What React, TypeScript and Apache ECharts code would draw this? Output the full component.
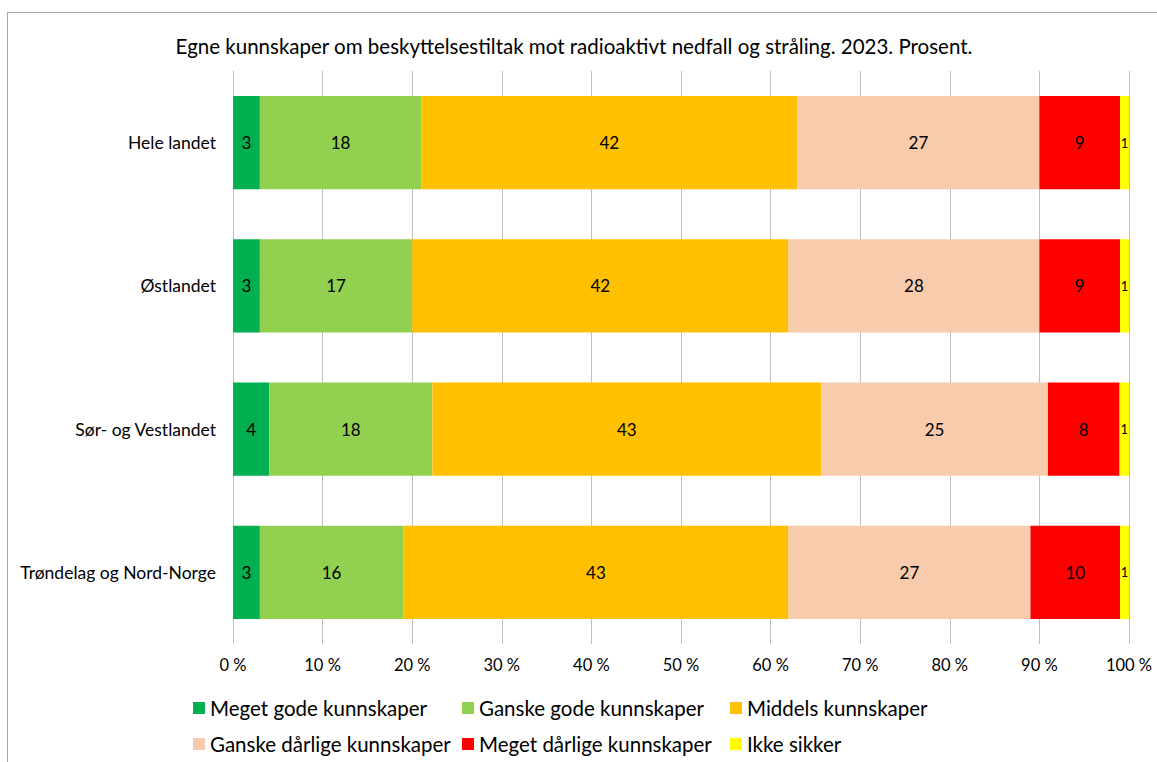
import React, { useEffect, useRef } from "react";
import * as echarts from "echarts";

const categories = ["Hele landet", "Østlandet", "Sør- og Vestlandet", "Trøndelag og Nord-Norge"];
const seriesNames = [
  "Meget gode kunnskaper",
  "Ganske gode kunnskaper",
  "Middels kunnskaper",
  "Ganske dårlige kunnskaper",
  "Meget dårlige kunnskaper",
  "Ikke sikker",
];
const megetGode = [3, 3, 4.05, 3];
const ganskeGode = [18, 17, 18.2, 16];
const middels = [42, 42, 43.4, 43];
const ganskeDarlige = [27, 28, 25.3, 27];
const megetDarlige = [9, 9, 8, 10];
const ikkeSikker = [1, 1, 1.1, 1];
const colors = ["#00B050", "#92D050", "#FFC000", "#F8CBAD", "#FF0000", "#FFFF00"];
const xTicks = [0, 10, 20, 30, 40, 50, 60, 70, 80, 90, 100];

const FONT = "Lato";

export default function App() {
  const ref = useRef<HTMLDivElement>(null);
  useEffect(() => {
    document.body.style.margin = "0";
    const chart = echarts.init(ref.current!, null, { renderer: "svg" });
    const values = [megetGode, ganskeGode, middels, ganskeDarlige, megetDarlige, ikkeSikker];
    const legendPos = [
      [193, 697],
      [462, 697],
      [730, 697],
      [193, 733],
      [462, 733],
      [730, 733],
    ];
    chart.setOption({
      animation: false,
      textStyle: { fontFamily: FONT },
      color: colors,
      title: {
        text: "Egne kunnskaper om beskyttelsestiltak mot radioaktivt nedfall og stråling. 2023. Prosent.",
        left: 569,
        textAlign: "center",
        top: 30,
        textStyle: { fontFamily: FONT, fontSize: 20.5, fontWeight: "normal", color: "#000" },
      },
      graphic: [
        {
          type: "rect",
          shape: { x: 7.5, y: 12.5, width: 1200, height: 800 },
          style: { fill: "none", stroke: "#A6A6A6", lineWidth: 1 },
          silent: true,
        },
      ],
      legend: seriesNames.map((n, i) => ({
        data: [n],
        left: legendPos[i][0],
        top: legendPos[i][1],
        padding: 0,
        itemWidth: 12,
        itemHeight: 12,
        icon: "rect",
        selectedMode: false,
        textStyle: { fontFamily: FONT, fontSize: 20.5, color: "#000", lineHeight: 22 },
      })),
      grid: { left: 233, right: 28, top: 71, bottom: 118, containLabel: false },
      xAxis: {
        type: "value",
        min: 0,
        max: 100,
        interval: 10,
        axisLine: { show: false },
        axisTick: { show: false },
        splitLine: { show: true, lineStyle: { color: "#BFBFBF", width: 1 } },
        axisLabel: {
          formatter: (v: number) => (xTicks.includes(v) ? `${v} %` : ""),
          fontFamily: FONT,
          fontSize: 16.5,
          color: "#000",
          margin: 12,
        },
      },
      yAxis: {
        type: "category",
        data: categories,
        inverse: true,
        axisLine: { show: true, lineStyle: { color: "#BFBFBF", width: 1 } },
        axisTick: { show: false },
        axisLabel: { fontFamily: FONT, fontSize: 17.5, color: "#000", margin: 17 },
      },
      series: seriesNames.map((n, i) => ({
        name: n,
        type: "bar",
        stack: "total",
        barCategoryGap: "35%",
        data: values[i],
        itemStyle: { color: colors[i] },
        label: {
          show: true,
          position: "inside",
          formatter: (p: any) => String(Math.round(p.value)),
          fontFamily: FONT,
          fontSize: i === 5 ? 13 : 17,
          color: "#000",
        },
      })),
    });
    return () => chart.dispose();
  }, []);
  return <div ref={ref} style={{ width: 1157, height: 762 }} />;
}
